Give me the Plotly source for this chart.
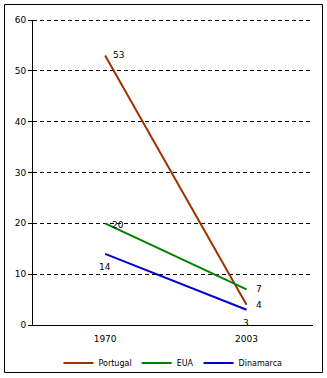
import plotly.graph_objects as go

years = ["1970", "2003"]
portugal = [53, 4]
eua = [20, 7]
dinamarca = [14, 3]

series = [("Portugal", portugal, "#993300"),
          ("EUA", eua, "#008000"),
          ("Dinamarca", dinamarca, "#0000CC")]

# label placement per point: (xanchor, yanchor, xshift, yshift)
label_pos = {
    "Portugal": [("left", "middle", 6, 1), ("left", "middle", 7, 0)],
    "EUA": [("left", "middle", 5, -2), ("left", "middle", 7, 0)],
    "Dinamarca": [("center", "middle", 0, -13), ("center", "middle", -1, -13)],
}

W, H = 327, 378
L, R, T, B = 33, 14, 20, 53
pw, ph = W - L - R, H - T - B

fig = go.Figure()
annotations = []
for name, vals, col in series:
    fig.add_trace(go.Scatter(x=years, y=vals, name=name, mode="lines",
                             line=dict(color=col, width=2)))
    for i, v in enumerate(vals):
        xa, ya, xs, ys = label_pos[name][i]
        annotations.append(dict(x=i, y=v, xref="x", yref="y", text=str(v), showarrow=False,
                                xanchor=xa, yanchor=ya, xshift=xs, yshift=ys,
                                font=dict(size=9, color="black")))

def px_x(p):
    return (p - L) / pw

def px_y(p):
    return (H - B - p) / ph

fig.update_layout(
    width=W, height=H,
    margin=dict(l=L, r=R, t=T, b=B, autoexpand=False),
    paper_bgcolor="white", plot_bgcolor="white",
    font=dict(family="DejaVu Sans", size=9, color="black"),
    showlegend=True,
    legend=dict(orientation="h", x=0.5, xanchor="center", y=px_y(363), yanchor="middle",
                font=dict(size=8), tracegroupgap=0, itemwidth=30,
                bgcolor="rgba(0,0,0,0)"),
    xaxis=dict(type="category", range=[-0.51, 1.47], showline=True, linecolor="black",
               linewidth=1, showgrid=False, ticks="outside", ticklen=5, tickcolor="rgba(0,0,0,0)",
               zeroline=False, fixedrange=True, tickfont=dict(size=9)),
    yaxis=dict(range=[0, 60], dtick=10, showline=True, linecolor="black", linewidth=1,
               showgrid=True, gridcolor="black", griddash="4px,3px", gridwidth=1,
               ticks="outside", ticklen=4, tickcolor="black", zeroline=False,
               tickfont=dict(size=9)),
    annotations=annotations,
    shapes=[dict(type="rect", xref="paper", yref="paper",
                 x0=px_x(4.5), x1=px_x(322.5), y0=px_y(372.5), y1=px_y(4.5),
                 line=dict(color="black", width=1), layer="below"),
            dict(type="line", xref="paper", yref="paper", x0=0, x1=1,
                 y0=px_y(20.5), y1=px_y(20.5),
                 line=dict(color="black", width=1, dash="4px,3px"), layer="below")],
)

fig.write_html("out.html")
